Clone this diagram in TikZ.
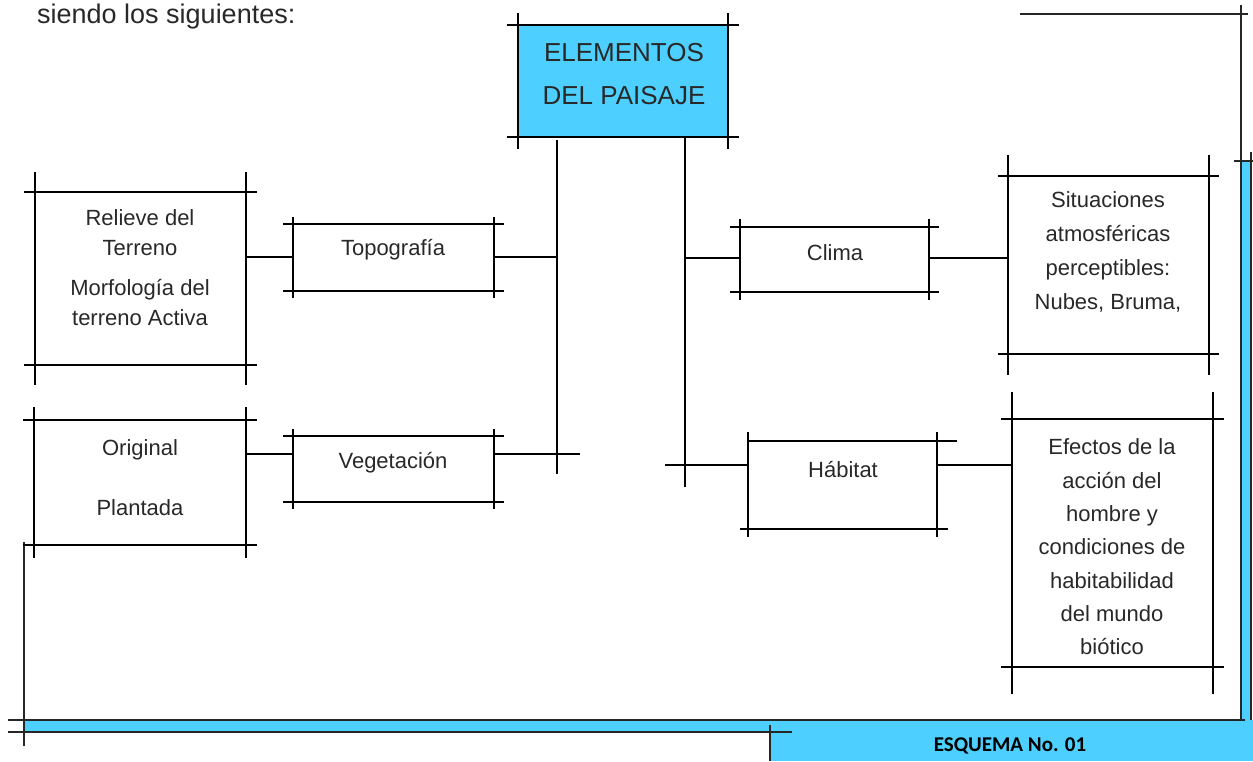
\documentclass[tikz,border=0pt]{standalone}
\usepackage{fontspec}
\setmainfont{Liberation Sans}
\newfontfamily\calibfont{Carlito}
\definecolor{skyfill}{RGB}{77,208,255}
\definecolor{inkgray}{RGB}{40,40,40}
\tikzset{
  bx/.style={draw=none, rectangle, inner sep=0pt, outer sep=0pt},
  boxline/.style={line width=2pt, black},
  conn/.style={line width=2pt, black},
  frameline/.style={line width=1.3pt, black!85},
  lbl/.style={align=center, text=inkgray, inner sep=0pt, font=\fontsize{22}{30}\selectfont},
}
\newcommand\crossbox[3]{%
  \draw[boxline] ([xshift=-#2]#1.north west) -- ([xshift=#2]#1.north east);
  \draw[boxline] ([xshift=-#2]#1.south west) -- ([xshift=#2]#1.south east);
  \draw[boxline] ([yshift=#3]#1.north west) -- ([yshift=-#3]#1.south west);
  \draw[boxline] ([yshift=#3]#1.north east) -- ([yshift=-#3]#1.south east);
}
\begin{document}
\begin{tikzpicture}[x=1pt,y=-1pt]
\useasboundingbox (0,0) rectangle (1253,761);

% blue frame parts
\fill[skyfill] (23,720) rectangle (1251,732);
\fill[skyfill] (770,720) rectangle (1253,761);
\fill[skyfill] (1241,161) rectangle (1251,720);

% frame lines
\draw[frameline] (1020,14) -- (1248,14);
\draw[frameline] (1241,5) -- (1241,720);
\draw[frameline] (1251,152) -- (1251,720);
\draw[frameline] (1234,161) -- (1253,161);
\draw[frameline] (8,720) -- (1245,720);
\draw[frameline] (8,732) -- (792,732);
\draw[frameline] (24,542) -- (24,746);
\draw[frameline] (770,725) -- (770,761);

% heading text
\node[lbl, anchor=base west, font=\fontsize{27}{32}\selectfont] (intro) at (37,23) {siendo los siguientes:};

% central box
\node[bx, fill=skyfill, minimum width=210pt, minimum height=112pt] (elem) at (623,81) {};
\crossbox{elem}{11pt}{12pt}
\node[lbl, font=\fontsize{26}{43}\selectfont] (telem) at (624,74) {ELEMENTOS\\DEL PAISAJE};

% boxes
\node[bx, minimum width=201pt, minimum height=67pt] (topo) at (393.5,257) {};
\crossbox{topo}{10pt}{7pt}
\node[lbl] (ttopo) at (393,250) {Topografía};

\node[bx, minimum width=201pt, minimum height=66pt] (veg) at (393.5,469) {};
\crossbox{veg}{10pt}{7pt}
\node[lbl] (tveg) at (393,463) {Vegetación};

\node[bx, minimum width=211pt, minimum height=173pt] (relieve) at (140.5,278.5) {};
\crossbox{relieve}{11pt}{20pt}
\node[lbl] (trelieve) at (140,268) {Relieve del\\Terreno\\[10pt]Morfología del\\terreno Activa};

\node[bx, minimum width=212pt, minimum height=125pt] (orig) at (140,482.5) {};
\crossbox{orig}{11pt}{13pt}
\node[lbl] (torig) at (140,478) {Original\\[30pt]Plantada};

\node[bx, minimum width=189pt, minimum height=65pt] (clima) at (834.5,259.5) {};
\crossbox{clima}{10pt}{8pt}
\node[lbl] (tclima) at (835,253) {Clima};

\node[bx, minimum width=189pt, minimum height=88pt] (habitat) at (842.5,485) {};
\draw[boxline] (habitat.north west) -- ([xshift=20pt]habitat.north east);
\draw[boxline] ([xshift=-8pt]habitat.south west) -- ([xshift=11pt]habitat.south east);
\draw[boxline] ([yshift=9pt]habitat.north west) -- ([yshift=-8pt]habitat.south west);
\draw[boxline] ([yshift=9pt]habitat.north east) -- ([yshift=-8pt]habitat.south east);
\node[lbl] (thabitat) at (843,469) {Hábitat};

\node[bx, minimum width=201pt, minimum height=178pt] (sit) at (1108.5,265) {};
\crossbox{sit}{10pt}{21pt}
\node[lbl, font=\fontsize{22}{34}\selectfont] (tsit) at (1108,252) {Situaciones\\atmosféricas\\perceptibles:\\Nubes, Bruma,};

\node[bx, minimum width=201pt, minimum height=248pt] (efectos) at (1112.5,543) {};
\crossbox{efectos}{11pt}{27pt}
\node[lbl, font=\fontsize{22}{33.3}\selectfont] (tefectos) at (1112,547) {Efectos de la\\acción del\\hombre y\\condiciones de\\habitabilidad\\del mundo\\biótico};

% trunks
\coordinate (tl1) at (557,140);
\coordinate (tl2) at (557,474);
\coordinate (tr1) at (685,138);
\coordinate (tr2) at (685,487);
\draw[conn] (tl1) -- (tl2);
\draw[conn] (tr1) -- (tr2);

% connectors
\coordinate (topy) at (0,257);
\draw[conn] (relieve.east |- topy) -- (topo.west |- topy);
\draw[conn] (topo.east |- topy) -- (tl1 |- topy);
\coordinate (vegy) at (0,454);
\draw[conn] (orig.east |- vegy) -- (veg.west |- vegy);
\coordinate (vegend) at (580,454);
\draw[conn] (veg.east |- vegy) -- (vegend);
\coordinate (cliy) at (0,258);
\draw[conn] (tr1 |- cliy) -- (clima.west |- cliy);
\draw[conn] (clima.east |- cliy) -- (sit.west |- cliy);
\coordinate (haby) at (665,465);
\draw[conn] (haby) -- (habitat.west |- haby);
\draw[conn] (habitat.east |- haby) -- (efectos.west |- haby);

% footer
\node[inner sep=0pt, font=\calibfont\bfseries\fontsize{21}{24}\selectfont, text=black] (esq) at (1010,746) {ESQUEMA No. 01};
\end{tikzpicture}
\end{document}
